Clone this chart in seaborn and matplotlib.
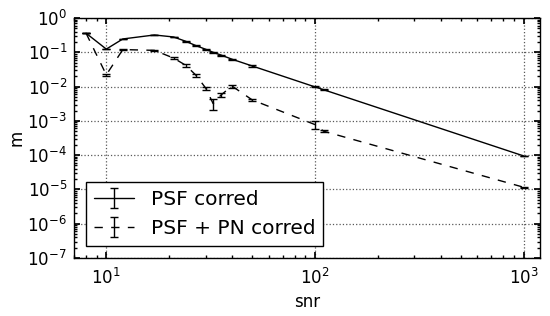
import numpy as np
import matplotlib
matplotlib.use("Agg")
import matplotlib.pyplot as plt
from matplotlib.ticker import LogLocator
import seaborn as sns

snr = [8, 10, 12, 17, 21, 24, 27, 30, 32.5, 35.5, 40, 50, 100, 110, 1000]

psf_m = [0.36, 0.124, 0.245, 0.32, 0.28, 0.21, 0.155, 0.122, 0.1, 0.083, 0.063, 0.04, 0.0098, 0.0081, 9.5e-5]
psf_err = [0.003, 0.002, 0.003, 0.004, 0.004, 0.006, 0.005, 0.004, 0.004, 0.003, 0.002, 0.0015, 0.0003, 0.0002, 1.5e-6]

pn_m = [0.36, 0.022, 0.12, 0.114, 0.068, 0.042, 0.021, 0.0089, 0.0032, 0.0057, 0.0104, 0.0041, 7.8e-4, 5.0e-4, 1.16e-5]
pn_err = [0.003, 0.002, 0.004, 0.004, 0.004, 0.004, 0.002, 0.0011, 0.0011, 0.0008, 0.001, 0.0003, 2.0e-4, 3e-5, 4e-7]

sns.set_theme(style="ticks", rc={
    "axes.edgecolor": "black",
    "axes.linewidth": 1.0,
    "xtick.direction": "in",
    "ytick.direction": "in",
    "xtick.top": True,
    "ytick.right": True,
    "xtick.major.size": 4,
    "ytick.major.size": 4,
    "xtick.minor.size": 2,
    "ytick.minor.size": 2,
    "xtick.major.pad": 7,
    "ytick.major.pad": 5,
    "xtick.labelsize": 12,
    "ytick.labelsize": 12,
    "axes.labelsize": 12,
    "text.color": "black",
    "xtick.color": "black",
    "ytick.color": "black",
    "axes.labelcolor": "black",
})
plt.rcParams["font.family"] = ["DejaVu Sans"]
plt.rcParams["mathtext.fontset"] = "dejavusans"

fig = plt.figure(figsize=(5.5, 3.16), dpi=100)
ax = fig.add_axes([0.1345, 0.1835, 0.8475, 0.7595])

ax.errorbar(snr, psf_m, yerr=psf_err, color="black", lw=1.0, capsize=3,
            elinewidth=1.0, label="PSF corred")
ax.errorbar(snr, pn_m, yerr=pn_err, color="black", lw=1.0, capsize=3,
            elinewidth=1.0, ls=(0, (6, 6)), label="PSF + PN corred")

ax.set_xscale("log")
ax.set_yscale("log")
ax.set_xlim(7, 1200)
ax.set_ylim(1e-7, 1)
ax.yaxis.set_major_locator(LogLocator(base=10, numticks=20))
ax.yaxis.set_minor_locator(LogLocator(base=10, subs=np.arange(2, 10), numticks=100))
ax.set_xlabel("snr", labelpad=4)
ax.set_ylabel("m", labelpad=1)
ax.grid(True, which="major", color="0.35", ls=":", lw=0.9)
ax.grid(False, which="minor")

leg = ax.legend(loc="lower left", fontsize=14.5, fancybox=False, framealpha=1,
                edgecolor="black", handlelength=2.0, borderaxespad=0.6)
leg.get_frame().set_linewidth(1.0)

fig.savefig("out.png", dpi=100)
